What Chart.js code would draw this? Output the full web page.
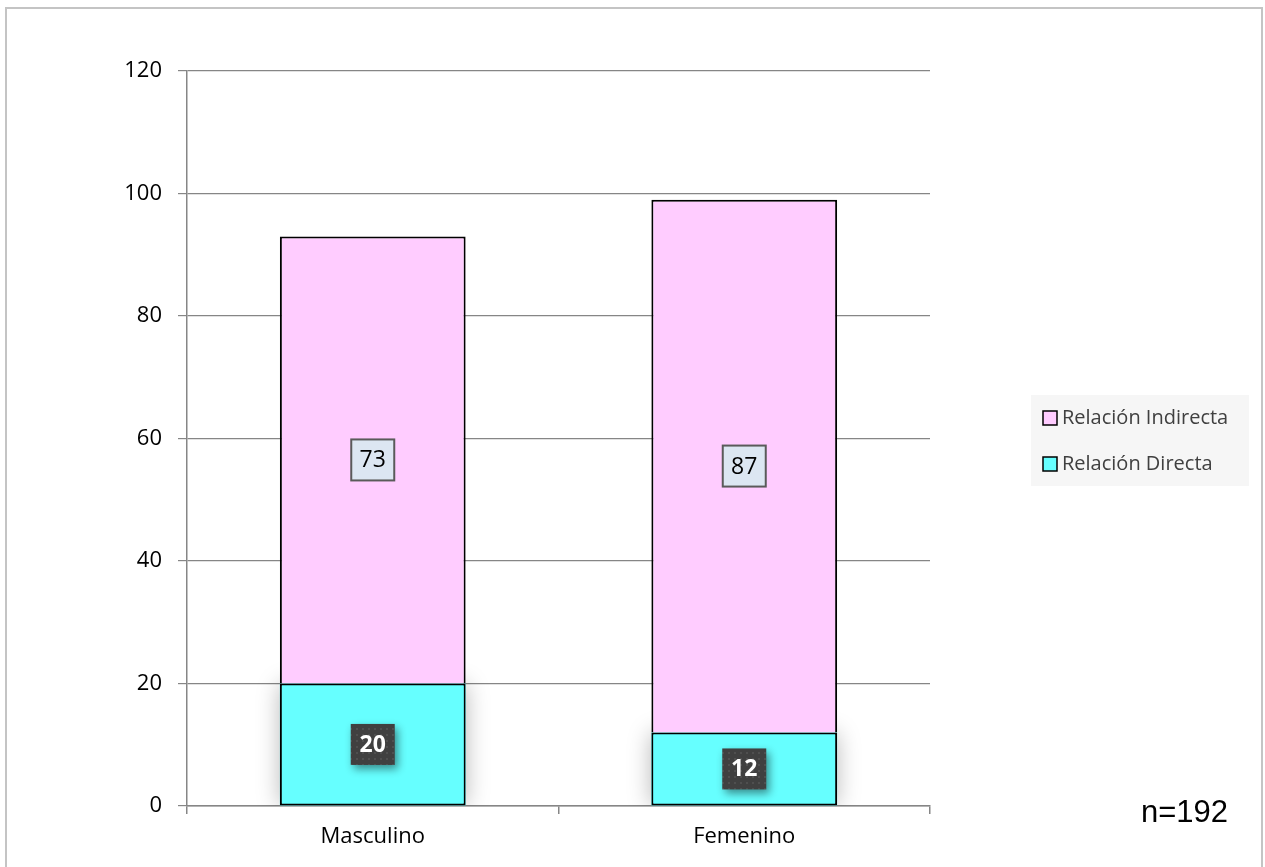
<!DOCTYPE html>
<html>
<head>
<meta charset="utf-8">
<script src="https://cdn.jsdelivr.net/npm/chart.js@4.4.1/dist/chart.umd.min.js"></script>
<style>
html,body{margin:0;padding:0;background:#fff;}
#wrap{width:1265px;height:867px;position:relative;}
canvas{display:block;}
</style>
</head>
<body>
<div id="wrap"><canvas id="c" width="1265" height="867"></canvas></div>
<script>
const categories = ['Masculino', 'Femenino'];
const directa = [20, 12];
const indirecta = [73, 87];
const seriesNames = ['Relación Directa', 'Relación Indirecta'];
const yTicks = [0, 20, 40, 60, 80, 100, 120];
const noteText = 'n=192';

const FONT = "'Open Sans', sans-serif";
const PINK = '#FFCCFF';
const CYAN = '#66FFFF';

// pattern for dark labels
const pc = document.createElement('canvas');
pc.width = 6; pc.height = 6;
const pctx = pc.getContext('2d');
pctx.fillStyle = '#404040'; pctx.fillRect(0,0,6,6);
pctx.fillStyle = '#4f4f4f'; pctx.fillRect(2,2,2,2);

const framePlugin = {
  id: 'frame',
  beforeDraw(chart) {
    const ctx = chart.ctx;
    ctx.save();
    ctx.fillStyle = '#fff';
    ctx.fillRect(0, 0, chart.width, chart.height);
    ctx.strokeStyle = '#c4c4c4';
    ctx.lineWidth = 2;
    ctx.strokeRect(6, 8, 1256, 880);
    ctx.restore();
  }
};

const shadowPlugin = {
  id: 'barShadow',
  beforeDatasetsDraw(chart) {
    const ctx = chart.ctx;
    const a = chart.chartArea;
    const meta = chart.getDatasetMeta(0);
    ctx.save();
    ctx.beginPath();
    ctx.rect(a.left, a.top, a.right - a.left, a.bottom - a.top);
    ctx.clip();
    meta.data.forEach(el => {
      const p = el.getProps(['x','y','base','width'], true);
      ctx.shadowColor = 'rgba(0,0,0,0.28)';
      ctx.shadowBlur = 22;
      ctx.fillStyle = CYAN;
      ctx.fillRect(p.x - p.width/2, p.y, p.width, p.base - p.y);
    });
    ctx.restore();
  }
};

const labelPlugin = {
  id: 'boxLabels',
  afterDatasetsDraw(chart) {
    const ctx = chart.ctx;
    ctx.save();
    // Indirecta labels (dataset 1)
    chart.getDatasetMeta(1).data.forEach((el, i) => {
      const p = el.getProps(['x','y','base'], true);
      const cy = (p.y + p.base) / 2;
      const w = 43, h = 41;
      ctx.fillStyle = '#DCE6F2';
      ctx.fillRect(p.x - w/2, cy - h/2, w, h);
      ctx.strokeStyle = '#5a5a5a';
      ctx.lineWidth = 2;
      ctx.strokeRect(p.x - w/2, cy - h/2, w, h);
      ctx.fillStyle = '#000';
      ctx.font = "23px " + FONT;
      ctx.textAlign = 'center';
      ctx.textBaseline = 'middle';
      ctx.fillText(String(indirecta[i]), p.x, cy + 1);
    });
    // Directa labels (dataset 0)
    chart.getDatasetMeta(0).data.forEach((el, i) => {
      const p = el.getProps(['x','y','base'], true);
      const cy = (p.y + p.base) / 2;
      const w = 44, h = 41;
      ctx.save();
      ctx.shadowColor = 'rgba(0,0,0,0.45)';
      ctx.shadowBlur = 9;
      ctx.shadowOffsetX = 3;
      ctx.shadowOffsetY = 4;
      ctx.fillStyle = ctx.createPattern(pc, 'repeat');
      ctx.fillRect(p.x - w/2, cy - h/2, w, h);
      ctx.restore();
      ctx.fillStyle = '#fff';
      ctx.font = "bold 23px " + FONT;
      ctx.textAlign = 'center';
      ctx.textBaseline = 'middle';
      ctx.fillText(String(directa[i]), p.x, cy + 1);
    });
    ctx.restore();
  }
};

const legendPlugin = {
  id: 'customLegend',
  afterDraw(chart) {
    const ctx = chart.ctx;
    ctx.save();
    ctx.fillStyle = '#F6F6F6';
    ctx.fillRect(1031, 395, 218, 91);
    const items = [
      {name: seriesNames[1], color: PINK, y: 418},
      {name: seriesNames[0], color: CYAN, y: 464}
    ];
    items.forEach(it => {
      ctx.fillStyle = it.color;
      ctx.fillRect(1043, it.y - 7, 14, 14);
      ctx.strokeStyle = '#000';
      ctx.lineWidth = 1.5;
      ctx.strokeRect(1043, it.y - 7, 14, 14);
      ctx.fillStyle = '#404040';
      ctx.font = "20px " + FONT;
      ctx.textAlign = 'left';
      ctx.textBaseline = 'middle';
      ctx.fillText(it.name, 1062, it.y);
    });
    ctx.fillStyle = '#000';
    ctx.font = "31px 'Liberation Sans', Arial, sans-serif";
    ctx.textAlign = 'left';
    ctx.textBaseline = 'alphabetic';
    ctx.fillText(noteText, 1141, 822);
    ctx.restore();
  }
};

new Chart(document.getElementById('c'), {
  type: 'bar',
  data: {
    labels: categories,
    datasets: [
      {label: seriesNames[0], data: directa, backgroundColor: CYAN, borderColor: '#000', borderWidth: 2, borderSkipped: false, barPercentage: 0.5, categoryPercentage: 1.0},
      {label: seriesNames[1], data: indirecta, backgroundColor: PINK, borderColor: '#000', borderWidth: 2, borderSkipped: 'bottom', barPercentage: 0.5, categoryPercentage: 1.0}
    ]
  },
  options: {
    responsive: false,
    devicePixelRatio: 1,
    animation: false,
    layout: {padding: {left: 0, right: 335, top: 71, bottom: 0}},
    plugins: {legend: {display: false}, tooltip: {enabled: false}},
    scales: {
      x: {
        stacked: true,
        grid: {display: true, drawOnChartArea: false, drawTicks: true, tickLength: 8, offset: true, color: '#868686', lineWidth: 1.5},
        border: {display: true, color: '#868686', width: 1.5},
        ticks: {color: '#000', font: {family: FONT, size: 22}, padding: 10},
        afterFit(s) { s.height = 61; }
      },
      y: {
        stacked: true,
        min: 0, max: 120,
        afterBuildTicks(s) { s.ticks = yTicks.map(v => ({value: v})); },
        grid: {color: '#868686', lineWidth: 1.2, tickLength: 9, drawTicks: true},
        border: {display: true, color: '#868686', width: 1.5},
        ticks: {color: '#000', font: {family: FONT, size: 22}, padding: 16},
        afterFit(s) { s.width = 187; }
      }
    }
  },
  plugins: [framePlugin, shadowPlugin, labelPlugin, legendPlugin]
});
</script>
</body>
</html>
